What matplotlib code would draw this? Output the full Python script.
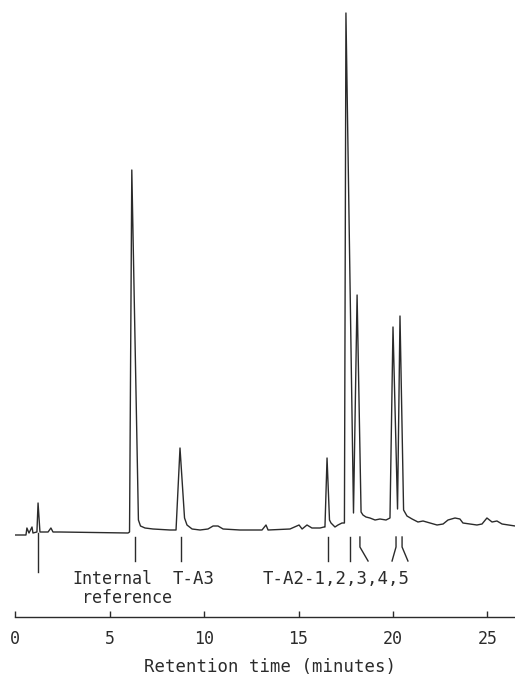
import matplotlib
matplotlib.use("Agg")
import matplotlib.pyplot as plt

# Chromatogram trace: retention time (min) and detector response (arb. units)
trace_time = [0.00, 0.58, 0.63, 0.74, 0.90, 0.95, 1.16, 1.22, 1.32, 1.48, 1.75, 1.90, 2.01, 2.38,
              5.98, 6.06, 6.18, 6.53, 6.64, 6.88, 7.30, 8.20, 8.52, 8.73, 8.97, 9.10, 9.37, 9.79,
              10.21, 10.48, 10.74, 11.01, 11.90, 13.07, 13.28, 13.39, 14.55, 15.03, 15.19, 15.45,
              15.71, 16.14, 16.35, 16.40, 16.51, 16.64, 16.72, 16.93, 17.09, 17.30, 17.43, 17.51,
              17.91, 18.10, 18.31, 18.41, 18.57, 18.78, 19.05, 19.31, 19.63, 19.84, 20.00, 20.24,
              20.37, 20.56, 20.74, 21.01, 21.32, 21.59, 21.96, 22.33, 22.65, 22.91, 23.28, 23.54,
              23.70, 24.44, 24.71, 24.97, 25.24, 25.50, 25.77, 26.46]
trace_resp = [-0.4, -0.4, 1.0, 0.0, 1.2, 0.0, 0.2, 6.0, 0.2, 0.2, 0.2, 1.0, 0.2, 0.2,
              0.0, 0.2, 72.6, 2.6, 1.4, 1.0, 0.8, 0.6, 0.6, 17.0, 3.0, 1.6, 0.8, 0.6,
              0.8, 1.4, 1.4, 0.8, 0.6, 0.6, 1.6, 0.6, 0.8, 1.6, 0.8, 1.6,
              1.0, 1.0, 1.2, 1.2, 15.0, 2.6, 2.0, 1.2, 1.6, 2.0, 2.0, 104.0,
              4.0, 47.6, 4.2, 3.6, 3.2, 3.0, 2.6, 2.8, 2.6, 3.0, 41.2, 4.8,
              43.4, 4.6, 3.4, 2.8, 2.2, 2.4, 2.0, 1.6, 1.8, 2.6, 3.0, 2.8,
              2.0, 1.6, 1.8, 3.0, 2.2, 2.4, 1.8, 1.4]

# Injection mark
injection_time = 1.22
injection_top = 0.0
injection_bottom = -7.8

# Peak identification marks: position at top, position at bottom (slanted ones differ)
mark_top_time = [6.35, 8.78, 16.56, 17.72, 18.25, 20.16, 20.48]
mark_bottom_time = [6.35, 8.78, 16.56, 17.72, 18.68, 19.95, 20.79]
mark_top = -0.8
mark_bend = -2.8
mark_bottom = -5.6

# Labels
label_texts = ["Internal", "reference", "T-A3", "T-A2-1,2,3,4,5"]
label_times = [3.02, 3.54, 8.36, 13.12]
label_ys = [-7.4, -11.2, -7.4, -7.4]
label_sizes = [12, 12, 12.5, 12.5]

xticks = [0, 5, 10, 15, 20, 25]
xlabel = "Retention time (minutes)"

ink = "#2b2b2b"
mono = "DejaVu Sans Mono"

W, H = 515, 677
fig = plt.figure(figsize=(W / 100, H / 100), dpi=100)
ax = fig.add_axes([15 / W, 60 / H, 500 / W, 617 / H])
ax.set_xlim(0, 500 / 18.9)
ax.set_ylim(-16.8, 106.6)

ax.plot(trace_time, trace_resp, color=ink, lw=1.0, solid_joinstyle="round")
ax.plot([injection_time, injection_time], [injection_top, injection_bottom], color=ink, lw=1.0)

for t0, t1 in zip(mark_top_time, mark_bottom_time):
    if abs(t0 - t1) < 1e-9:
        ax.plot([t0, t0], [mark_top, mark_bottom], color=ink, lw=1.0)
    else:
        ax.plot([t0, t0, t1], [mark_top, mark_bend, mark_bottom], color=ink, lw=1.0)

for txt, t, y, s in zip(label_texts, label_times, label_ys, label_sizes):
    ax.text(t, y, txt, family=mono, fontsize=s, color=ink, ha="left", va="top")

for side in ["top", "right", "left"]:
    ax.spines[side].set_visible(False)
ax.spines["bottom"].set_color(ink)
ax.spines["bottom"].set_linewidth(1.0)
ax.set_yticks([])
ax.set_xticks(xticks)
ax.set_xticklabels([str(v) for v in xticks], family=mono, fontsize=12, color=ink)
ax.tick_params(axis="x", direction="in", length=4, width=1.0, color=ink, pad=9)
ax.set_xlabel(xlabel, family=mono, fontsize=12.5, color=ink)
ax.xaxis.set_label_coords(0.51, -0.0665)

fig.savefig("out.png", dpi=100)
